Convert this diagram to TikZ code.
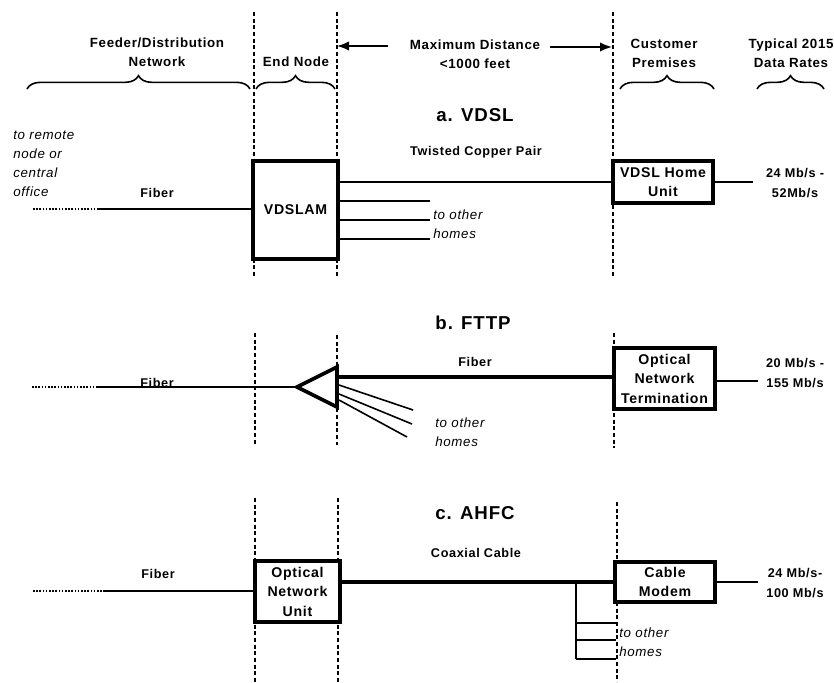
\documentclass[tikz,border=0pt]{standalone}
\usepackage{fontspec}
\setmainfont{Liberation Sans}[LetterSpace=5]
\usetikzlibrary{arrows.meta,decorations.pathreplacing}
\begin{document}
\begin{tikzpicture}[x=0.75pt,y=-0.75pt,
  lab/.style={font=\fontsize{10}{14.25}\selectfont\bfseries, inner sep=0pt, align=center},
  slab/.style={font=\fontsize{9.5}{14.5}\selectfont\bfseries, inner sep=0pt, align=center},
  ttl/.style={font=\fontsize{14}{16}\selectfont\bfseries, inner sep=0pt},
  itl/.style={font=\fontsize{10}{14.25}\selectfont\itshape, inner sep=0pt, align=left, anchor=west},
  box/.style={draw, fill=white, line width=2.3pt, inner sep=0pt, align=center, font=\fontsize{10.6}{14.6}\selectfont\bfseries},
  vdash/.style={line width=0.8pt, dash pattern=on 3pt off 2pt},
  wire/.style={line width=2.1pt},
  fatwire/.style={line width=2.9pt},
  thinwire/.style={line width=1.2pt},
  dots/.style={line width=2pt, dash pattern=on 1.2pt off 1.2pt},
  brc/.style={line width=1.2pt, decorate, decoration={brace, amplitude=10pt}},
  arr/.style={line width=1.2pt, -{Latex[length=9pt,width=7pt]}}
]
\fill[white] (0,0) rectangle (834,682);
\useasboundingbox (0,0) rectangle (834,682);

% ---------- dashed region separators ----------
\draw[vdash] (254,12) -- (254,278);
\draw[vdash] (337,12) -- (337,278);
\draw[vdash] (613,12) -- (613,278);
\draw[vdash] (255,333) -- (255,446);
\draw[vdash] (337,335) -- (337,445);
\draw[vdash] (614,333) -- (614,448);
\draw[vdash] (255,498) -- (255,682);
\draw[vdash] (338,498) -- (338,682);
\draw[vdash] (617,502) -- (617,682);

% ---------- header ----------
\node[lab] (feeder) at (157,52.5) {Feeder/Distribution\\Network};
\node[lab] (endn) at (296,62) {End Node};
\node[lab] (maxd) at (475,54) {Maximum Distance\\<1000 feet};
\node[lab] (cust) at (664,53) {Customer\\Premises};
\node[lab] (rates) at (791,53) {Typical 2015\\Data Rates};
\coordinate (la0) at (388,46);
\coordinate (la1) at (337,46);
\coordinate (ra0) at (550,47);
\coordinate (ra1) at (612,47);
\draw[arr] (la0) -- (la1);
\draw[arr] (ra0) -- (ra1);
\coordinate (bF0) at (27,89);  \coordinate (bF1) at (250,89);
\coordinate (bE0) at (256,89); \coordinate (bE1) at (335,89);
\coordinate (bC0) at (620,89); \coordinate (bC1) at (714,89);
\coordinate (bD0) at (757,89); \coordinate (bD1) at (824,89);
\draw[brc] (bF0) -- (bF1);
\draw[brc] (bE0) -- (bE1);
\draw[brc] (bC0) -- (bC1);
\draw[brc] (bD0) -- (bD1);

% ---------- a. VDSL ----------
\node[ttl] (tA) at (475,115) {a. VDSL};
\node[slab] (twp) at (476,152) {Twisted Copper Pair};
\node[itl] (remote) at (13,163.5) {to remote\\node or\\central\\office};
\node[slab] (fibA) at (157,193) {Fiber};
\coordinate (fA0) at (33,209);
\coordinate (fA1) at (97,209);
\node[box, minimum width=63.75pt, minimum height=73.5pt] (vdslam) at (295.5,210) {VDSLAM};
\node[box, minimum width=75pt, minimum height=31.5pt] (home) at (663,182) {VDSL Home\\Unit};
\draw[dots] (fA0) -- (fA1);
\draw[wire] (fA1) -- (vdslam.west |- fA1);
\draw[wire] (vdslam.east |- home.west) -- (home.west);
\coordinate (oA1) at (430,201);
\coordinate (oA2) at (430,220);
\coordinate (oA3) at (430,239);
\draw[thinwire] (vdslam.east |- oA1) -- (oA1);
\draw[thinwire] (vdslam.east |- oA2) -- (oA2);
\draw[thinwire] (vdslam.east |- oA3) -- (oA3);
\node[itl] (othA) at (433,224.5) {to other\\homes};
\coordinate (rA0) at (753,182);
\draw[wire] (home.east) -- (rA0);
\node[slab] (rA) at (795,183) {24 Mb/s -\\52Mb/s};

% ---------- b. FTTP ----------
\node[ttl] (tB) at (473,323) {b. FTTP};
\node[slab] (fibB) at (475,362) {Fiber};
\node[slab] (fibBl) at (157,383) {Fiber};
\coordinate (fB0) at (32,387);
\coordinate (fB1) at (98,387);
\coordinate (sp) at (297,387);
\coordinate (spt) at (337,367);
\coordinate (spb) at (337,407);
\coordinate (spm) at (337,377);
\draw[dots] (fB0) -- (fB1);
\draw[wire] (fB1) -- (sp);
\draw[line width=2.7pt, line join=miter] (sp) -- (spt) -- (spb) -- cycle;
\node[box, minimum width=75.75pt, minimum height=45.75pt] (ont) at (664.5,378.5) {Optical\\Network\\Termination};
\draw[fatwire] (spm) -- (ont.west |- spm);
\coordinate (b1s) at (339,385); \coordinate (b1e) at (413,410);
\coordinate (b2s) at (339,394); \coordinate (b2e) at (412,424);
\coordinate (b3s) at (339,400); \coordinate (b3e) at (407,437);
\draw[thinwire] (b1s) -- (b1e);
\draw[thinwire] (b2s) -- (b2e);
\draw[thinwire] (b3s) -- (b3e);
\node[itl] (othB) at (435,432.5) {to other\\homes};
\coordinate (rB0) at (758,381);
\draw[wire] (ont.east |- rB0) -- (rB0);
\node[slab] (rB) at (795,373) {20 Mb/s -\\155 Mb/s};

% ---------- c. AHFC ----------
\node[ttl] (tC) at (475,513) {c. AHFC};
\node[slab] (coax) at (476,553) {Coaxial Cable};
\node[slab] (fibC) at (158,574) {Fiber};
\coordinate (fC0) at (33,591);
\coordinate (fC1) at (103,591);
\node[box, minimum width=63.75pt, minimum height=45.75pt] (onu) at (297.5,591.5) {Optical\\Network\\Unit};
\node[box, minimum width=75pt, minimum height=30pt] (modem) at (665,582) {Cable\\Modem};
\draw[dots] (fC0) -- (fC1);
\draw[wire] (fC1) -- (onu.west |- fC1);
\draw[fatwire] (onu.east |- modem.west) -- (modem.west);
\coordinate (tap) at (576,582);
\coordinate (tapb) at (576,659);
\draw[wire] (tap) -- (tapb);
\coordinate (c1) at (616,623);
\coordinate (c2) at (616,640);
\coordinate (c3) at (616,659);
\draw[thinwire] (tap |- c1) -- (c1);
\draw[thinwire] (tap |- c2) -- (c2);
\draw[thinwire] (tapb) -- (c3);
\node[itl] (othC) at (619,642) {to other\\homes};
\coordinate (rC0) at (758,582);
\draw[wire] (modem.east) -- (rC0);
\node[slab] (rC) at (795,583) {24 Mb/s-\\100 Mb/s};
\end{tikzpicture}
\end{document}
